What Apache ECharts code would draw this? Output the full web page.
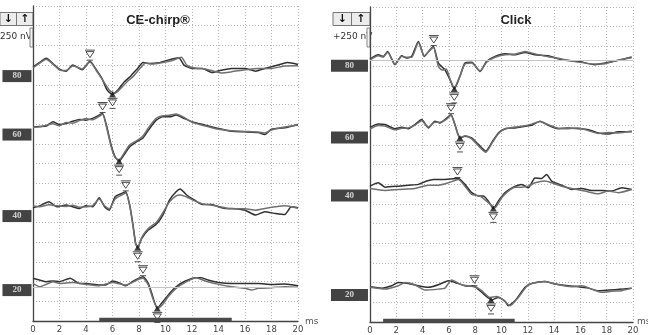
<!DOCTYPE html>
<html>
<head>
<meta charset="utf-8">
<script src="https://cdn.jsdelivr.net/npm/echarts@6/dist/echarts.min.js"></script>
<style>
html, body { margin: 0; padding: 0; background: #fff; }
#chart { width: 648px; height: 335px; }
</style>
</head>
<body>
<div id="chart"></div>
<script>
// time in ms, amplitude in grid divisions (one division = 250 nV)
const levels = ['80', '60', '40', '20']

// CE-chirp panel, two replicates per level
const chirp80a = [[0,12.91],[0.5,13.13],[1.0,13.34],[1.5,13.08],[2.0,12.79],[2.5,12.69],[3.0,13.0],[3.3,12.91],[3.7,12.76],[4.3,13.2],[4.8,12.74],[5.2,12.32],[5.6,11.73],[6.0,11.51],[6.4,11.73],[6.9,12.15],[7.4,12.46],[7.9,12.83],[8.3,13.13],[8.8,13.08],[9.5,13.12],[10.2,13.25],[11.0,13.37],[11.4,13.0],[12.0,12.83],[12.8,12.83],[13.5,12.62],[14.2,12.74],[15.0,12.83],[16.0,12.83],[16.8,12.69],[17.5,12.83],[18.5,13.0],[19.2,13.13],[20,13.03]]
const chirp80b = [[0,12.85],[0.5,13.1],[1.0,13.3],[1.5,13.05],[2.0,12.75],[2.5,12.72],[3.0,12.95],[3.4,12.88],[3.7,12.8],[4.3,13.15],[4.8,12.7],[5.3,12.2],[5.8,11.7],[6.2,11.58],[6.6,11.8],[7.1,12.15],[7.6,12.45],[8.1,12.85],[8.5,13.1],[9.0,13.05],[9.6,13.1],[10.4,13.2],[11.2,13.4],[11.6,13.0],[12.2,12.85],[13.0,12.8],[13.6,12.7],[14.2,12.6],[15.0,12.66],[16.0,12.76],[17.0,12.83],[18.0,12.83],[19.0,12.95],[20,12.96]]
const chirp60a = [[0,9.86],[0.5,9.88],[1.0,9.9],[1.5,10.12],[2.0,9.98],[2.5,10.03],[3.0,10.15],[3.5,10.24],[4.0,10.2],[4.5,10.29],[5.0,10.46],[5.25,10.54],[5.6,9.78],[5.9,8.93],[6.2,8.34],[6.5,8.12],[6.85,8.42],[7.3,8.85],[7.8,9.1],[8.3,9.3],[8.8,9.78],[9.3,10.2],[9.8,10.37],[10.3,10.37],[10.8,10.46],[11.3,10.32],[12.0,10.12],[13.0,9.95],[14.0,9.78],[15.0,9.64],[16.0,9.61],[17.0,9.57],[17.5,9.47],[18.0,9.74],[19.0,9.81],[20,9.98]]
const chirp60b = [[0,9.84],[0.5,9.86],[1.0,9.95],[1.5,10.02],[2.0,9.92],[2.5,10.08],[3.0,10.05],[3.5,10.18],[4.0,10.28],[4.5,10.22],[5.0,10.4],[5.25,10.5],[5.6,9.7],[5.9,8.85],[6.2,8.3],[6.5,8.18],[6.85,8.5],[7.3,8.95],[7.8,9.15],[8.3,9.4],[8.8,9.9],[9.3,10.3],[9.8,10.42],[10.3,10.45],[10.8,10.52],[11.3,10.38],[12.0,10.1],[13.0,9.9],[14.0,9.74],[15.0,9.66],[16.0,9.63],[17.0,9.6],[17.5,9.55],[18.0,9.7],[19.0,9.85],[20,9.95]]
const chirp40a = [[0,5.75],[0.5,5.85],[1.2,6.06],[1.8,5.8],[2.5,5.89],[3.0,5.8],[3.5,5.72],[4.0,5.85],[4.5,5.8],[5.0,6.26],[5.4,5.8],[5.75,5.63],[6.2,6.31],[6.7,6.48],[7.0,6.56],[7.3,5.89],[7.55,4.87],[7.75,3.94],[7.9,3.72],[8.2,4.19],[8.7,4.62],[9.3,4.91],[9.8,5.38],[10.3,6.14],[10.8,6.56],[11.1,6.7],[11.6,6.4],[12.2,6.14],[12.8,5.92],[13.5,5.92],[14.0,5.8],[14.5,5.72],[15.0,5.72],[16.0,5.63],[16.8,5.38],[17.5,5.55],[18.3,5.46],[19.0,5.41],[19.5,5.8],[20,5.75]]
const chirp40b = [[0,5.85],[0.5,5.8],[1.2,5.9],[1.8,5.85],[2.5,5.82],[3.0,5.88],[3.5,5.78],[4.0,5.8],[4.5,5.86],[5.0,6.2],[5.4,5.85],[5.75,5.7],[6.2,6.2],[6.7,6.4],[7.0,6.5],[7.3,5.85],[7.55,4.8],[7.75,3.9],[7.92,3.76],[8.25,4.3],[8.7,4.7],[9.3,5.0],[9.8,5.5],[10.3,6.05],[10.8,6.35],[11.1,6.4],[11.6,6.3],[12.2,6.1],[12.8,5.95],[13.5,5.88],[14.0,5.82],[14.5,5.75],[15.0,5.7],[16.0,5.7],[16.8,5.63],[17.5,5.72],[18.3,5.8],[19.0,5.85],[19.5,5.8],[20,5.72]]
const chirp20a = [[0,2.17],[0.5,2.08],[1.0,2.0],[1.5,2.03],[2.0,2.0],[2.8,2.17],[3.5,1.91],[4.0,1.91],[5.0,1.83],[5.5,1.83],[6.0,2.03],[6.6,1.91],[7.0,1.79],[7.5,2.0],[8.0,2.17],[8.3,2.25],[8.7,1.91],[9.0,1.32],[9.2,0.9],[9.38,0.64],[9.7,0.9],[10.3,1.4],[10.8,1.74],[11.5,2.03],[12.3,2.2],[12.7,2.2],[13.2,2.08],[14.0,1.96],[15.0,1.91],[16.0,1.91],[17.0,1.91],[18.0,1.86],[19.0,1.88],[20,1.79]]
const chirp20b = [[0,1.91],[0.5,1.74],[1.0,1.86],[1.5,2.0],[2.0,1.91],[3.0,1.96],[4.0,1.86],[5.0,1.79],[6.0,1.96],[7.0,1.83],[8.0,2.13],[8.3,2.17],[8.7,1.83],[9.0,1.23],[9.4,0.64],[9.75,0.81],[10.2,1.23],[10.8,1.66],[11.5,1.96],[12.3,2.2],[13.0,2.03],[14.0,1.86],[15.0,1.74],[16.0,1.66],[16.5,1.57],[17.0,1.66],[18.0,1.69],[19.0,1.74],[20,1.71]]
const chirpPeaks = [[4.3,13.2],[5.25,10.54],[7.0,6.56],[8.3,2.25]]
const chirpTroughs = [[6.0,11.51],[6.5,8.12],[7.9,3.72],[9.38,0.64]]
const chirpLevelBase = [12.44, 9.47, 5.33, 1.57]
const chirpRefLines = [1.73]
const chirpWindow = [5, 15]

// Click panel
const click80a = [[0,13.35],[0.63,13.57],[1.01,13.49],[1.34,13.74],[1.9,13.07],[2.41,13.52],[2.79,13.41],[3.17,13.49],[3.68,14.25],[4.13,13.49],[4.56,13.83],[4.82,13.99],[5.2,13.15],[5.7,12.81],[6.08,12.31],[6.41,11.84],[6.84,12.48],[7.22,13.15],[7.73,13.19],[8.37,12.73],[8.87,13.24],[9.51,13.49],[10.27,13.62],[11.03,13.57],[11.79,13.69],[12.55,13.57],[13.56,13.52],[14.58,13.32],[15.84,13.24],[17.11,13.07],[17.87,13.15],[18.88,13.29],[19.9,13.46]]
const click80b = [[0,13.3],[0.63,13.52],[1.01,13.45],[1.34,13.7],[1.9,13.1],[2.41,13.48],[2.79,13.45],[3.17,13.45],[3.68,14.2],[4.13,13.52],[4.56,13.8],[4.82,13.95],[5.2,12.98],[5.5,12.8],[5.8,12.85],[6.08,12.35],[6.41,11.9],[6.84,12.5],[7.22,13.1],[7.73,13.15],[8.37,12.75],[8.87,13.2],[9.51,13.45],[10.27,13.58],[11.03,13.6],[11.79,13.74],[12.55,13.62],[13.56,13.47],[14.58,13.36],[15.84,13.2],[17.11,13.1],[17.87,13.12],[18.88,13.3],[19.9,13.42]]
const click60a = [[0,9.89],[0.63,10.06],[1.14,10.03],[1.9,9.82],[2.41,9.89],[2.92,9.82],[3.42,10.03],[3.93,10.28],[4.44,9.86],[4.94,10.2],[5.32,10.11],[5.83,10.36],[6.16,10.53],[6.46,10.03],[6.84,9.35],[7.22,9.44],[7.73,9.35],[8.24,9.02],[8.8,8.68],[9.25,9.1],[9.76,9.6],[10.27,9.82],[11.03,9.86],[11.79,9.94],[12.29,9.99],[12.93,10.2],[13.56,9.99],[14.32,9.82],[15.08,9.86],[15.84,9.82],[16.6,9.77],[17.36,9.6],[18.12,9.55],[18.88,9.66],[19.9,9.66]]
const click60b = [[0,9.8],[0.63,9.98],[1.14,9.95],[1.9,9.76],[2.41,9.84],[2.92,9.86],[3.42,10.0],[3.93,10.22],[4.44,9.9],[4.94,10.15],[5.32,10.14],[5.83,10.3],[6.16,10.5],[6.46,10.0],[6.84,9.32],[7.22,9.46],[7.73,9.3],[8.24,8.95],[8.8,8.62],[9.25,9.05],[9.76,9.56],[10.27,9.8],[11.03,9.9],[11.79,9.97],[12.29,10.05],[12.93,10.18],[13.56,10.02],[14.32,9.84],[15.08,9.82],[15.84,9.86],[16.6,9.72],[17.36,9.58],[18.12,9.62],[18.88,9.6],[19.9,9.7]]
const click40a = [[0,6.9],[0.63,7.07],[1.14,6.85],[2.15,6.9],[2.92,6.95],[3.68,6.99],[4.31,7.16],[4.82,7.24],[5.45,7.24],[6.72,7.29],[7.22,6.99],[7.73,6.57],[8.24,6.4],[8.62,6.4],[9.0,6.14],[9.38,5.77],[9.76,6.14],[10.27,6.57],[10.9,6.85],[11.53,6.99],[12.04,6.82],[12.55,7.32],[13.05,7.29],[13.43,7.49],[13.81,7.16],[14.58,6.95],[15.34,6.73],[16.1,6.78],[16.86,6.68],[17.62,6.68],[18.38,6.65],[19.14,6.82],[19.9,6.73]]
const click40b = [[0,6.78],[1.14,6.68],[2.15,6.73],[3.42,6.78],[4.44,6.95],[5.2,6.95],[5.96,7.07],[6.72,7.24],[7.22,6.9],[7.73,6.48],[8.37,6.4],[9.0,6.06],[9.51,5.81],[10.01,6.31],[10.52,6.65],[11.03,6.85],[11.53,6.85],[12.04,6.9],[12.55,7.07],[13.31,7.16],[13.81,7.07],[14.58,6.9],[15.34,6.78],[16.35,6.65],[17.36,6.51],[18.12,6.65],[18.88,6.57],[19.9,6.73]]
const click20a = [[0,1.79],[0.89,1.72],[1.65,1.84],[2.15,2.01],[2.92,1.96],[3.68,1.84],[4.44,1.76],[5.2,1.89],[5.96,2.1],[6.46,2.01],[7.22,1.84],[7.98,1.79],[8.49,1.51],[9.0,1.22],[9.25,1.12],[9.76,1.25],[10.27,1.05],[10.52,0.83],[11.03,1.08],[11.79,1.76],[12.29,1.96],[13.31,2.06],[14.07,1.93],[15.08,1.84],[15.84,1.79],[16.6,1.72],[17.36,1.59],[18.12,1.62],[19.14,1.67],[19.9,1.72]]
const click20b = [[0,1.76],[1.14,1.67],[2.15,1.84],[2.66,2.01],[3.42,1.89],[4.18,1.62],[5.2,1.67],[5.7,1.72],[6.21,2.13],[6.97,1.89],[7.98,1.79],[8.49,1.59],[9.13,1.25],[9.63,1.29],[10.14,1.12],[10.65,0.83],[11.28,1.25],[12.04,1.89],[13.31,2.06],[14.32,1.89],[15.34,1.79],[16.1,1.84],[16.86,1.67],[17.62,1.51],[18.38,1.56],[19.14,1.59],[19.9,1.72]]
const clickPeaks = [[4.85,13.99],[6.16,10.53],[6.65,7.29],[7.95,1.79]]
const clickTroughs = [[6.41,11.84],[6.84,9.35],[9.38,5.77],[9.2,1.12]]
const clickLevelBase = [13.01, 9.37, 6.43, 1.37]
const clickRefLines = [13.27]
const clickWindow = [1, 11]

const xTicks = [0, 2, 4, 6, 8, 10, 12, 14, 16, 18, 20]

const markerPath = 'path://M0,0L10,0M1,1.5L9,1.5L5,7.5ZM2,10L8,10'
const dark = '#303030'
const light = '#707070'

const chart = echarts.init(document.getElementById('chart'))

const makeAxes = (grid) => ({
  x: {
    type: 'value', gridIndex: grid, min: xTicks[0], max: xTicks[xTicks.length - 1], interval: 2,
    axisLine: { show: true, lineStyle: { color: '#444', width: 1.3 } },
    axisTick: { show: false },
    axisLabel: { fontSize: 8.5, color: '#444', margin: 4, fontFamily: 'DejaVu Sans' },
    splitLine: { show: true, lineStyle: { type: [1, 2], color: '#b4b4b4', width: 1 } },
  },
  y: {
    type: 'value', gridIndex: grid, min: 0, max: 16, interval: 1,
    axisLine: { show: true, onZero: false, lineStyle: { color: '#444', width: 1.3 } },
    axisTick: { show: false },
    axisLabel: { show: false },
    splitLine: { show: true, lineStyle: { type: [1, 2], color: '#b4b4b4', width: 1 } },
  },
})

const panelSeries = (g, traces, peaks, troughs, levelBase, refLines, win, boxX, boxW) => {
  const out = []
  traces.forEach((t, i) => {
    out.push({
      type: 'line', xAxisIndex: g, yAxisIndex: g, data: t,
      symbol: 'none', smooth: 0.2, z: 2,
      lineStyle: { color: i % 2 ? light : dark, width: 1.5 },
      markLine: i === 0 && refLines.length ? {
        silent: true, symbol: 'none', label: { show: false },
        lineStyle: { type: 'solid', color: '#c4c4c4', width: 1 },
        data: refLines.map((v) => ({ yAxis: v })),
      } : undefined,
    })
  })
  // peak (wave V) markers
  out.push({
    type: 'scatter', xAxisIndex: g, yAxisIndex: g, data: peaks, z: 4,
    symbol: markerPath, symbolSize: [10, 10], symbolOffset: [0, -6],
    itemStyle: { color: 'rgba(0,0,0,0)', borderColor: '#222', borderWidth: 1 },
  })
  // trough markers: filled triangle plus open marker below
  out.push({
    type: 'scatter', xAxisIndex: g, yAxisIndex: g, data: troughs, z: 4,
    symbol: 'triangle', symbolSize: [7, 6], itemStyle: { color: '#111' },
  })
  out.push({
    type: 'scatter', xAxisIndex: g, yAxisIndex: g, data: troughs, z: 4,
    symbol: markerPath, symbolSize: [10, 10], symbolOffset: [0, 9],
    itemStyle: { color: 'rgba(0,0,0,0)', borderColor: '#222', borderWidth: 1 },
  })
  // stimulus window bar
  out.push({
    type: 'line', xAxisIndex: g, yAxisIndex: g, clip: false, z: 5,
    data: [[win[0], 0.08], [win[1], 0.08]], symbol: 'none',
    lineStyle: { color: '#4a4a4a', width: 3.5 },
  })
  // level labels
  out.push({
    type: 'scatter', xAxisIndex: g, yAxisIndex: g, clip: false, z: 6,
    data: levelBase.map((b, i) => ({ value: [boxX, b], name: levels[i] })),
    symbol: 'rect', symbolSize: [boxW, 12], itemStyle: { color: '#141414' },
    label: { show: true, position: 'inside', formatter: '{b}', color: '#f4f4f4', fontSize: 9, fontFamily: 'Liberation Serif', fontWeight: 'bold' },
  })
  return out
}

const a0 = makeAxes(0)
const a1 = makeAxes(1)

const widget = (x, w, label, textX) => [
  { type: 'rect', shape: { x: x, y: 12.5, width: w, height: 13 }, style: { fill: '#ececec', stroke: '#777', lineWidth: 1 } },
  { type: 'line', shape: { x1: x + w / 2, y1: 12.5, x2: x + w / 2, y2: 25.5 }, style: { stroke: '#777', lineWidth: 1 } },
  { type: 'text', style: { x: x + w / 4, y: 19, text: '↓', fill: '#111', font: 'bold 11px DejaVu Sans', align: 'center', verticalAlign: 'middle' } },
  { type: 'text', style: { x: x + 3 * w / 4, y: 19, text: '↑', fill: '#111', font: 'bold 11px DejaVu Sans', align: 'center', verticalAlign: 'middle' } },
  { type: 'text', style: { x: textX, y: 37, text: label, fill: '#333', font: '9px DejaVu Sans', align: 'left', verticalAlign: 'middle' } },
  { type: 'rect', shape: { x: x + w - 3, y: 28, width: 3, height: 19 }, style: { fill: '#f4f4f4', stroke: '#888', lineWidth: 1 } },
]

chart.setOption({
  animation: false,
  backgroundColor: '#fff',
  grid: [
    { left: 33, top: 6, width: 265, height: 315 },
    { left: 370, top: 7, width: 263, height: 316 },
  ],
  xAxis: [a0.x, a1.x],
  yAxis: [a0.y, a1.y],
  series: [
    ...panelSeries(0, [chirp80a, chirp80b, chirp60a, chirp60b, chirp40a, chirp40b, chirp20a, chirp20b],
      chirpPeaks, chirpTroughs, chirpLevelBase, chirpRefLines, chirpWindow, -1.21, 29),
    ...panelSeries(1, [click80a, click80b, click60a, click60b, click40a, click40b, click20a, click20b],
      clickPeaks, clickTroughs, clickLevelBase, clickRefLines, clickWindow, -1.56, 37),
  ],
  graphic: [
    ...widget(0, 33, '250 nV', 0),
    ...widget(333, 37, '+250 nV', 333),
    { type: 'text', style: { x: 158, y: 20, text: 'CE-chirp®', fill: '#222', font: 'bold 13px Liberation Sans', align: 'center', verticalAlign: 'middle' } },
    { type: 'text', style: { x: 516, y: 20, text: 'Click', fill: '#222', font: 'bold 13px Liberation Sans', align: 'center', verticalAlign: 'middle' } },
    { type: 'text', style: { x: 305, y: 322, text: 'ms', fill: '#555', font: '9px DejaVu Sans', align: 'left', verticalAlign: 'middle' } },
    { type: 'text', style: { x: 637, y: 322, text: 'ms', fill: '#555', font: '9px DejaVu Sans', align: 'left', verticalAlign: 'middle' } },
  ],
})
</script>
</body>
</html>
